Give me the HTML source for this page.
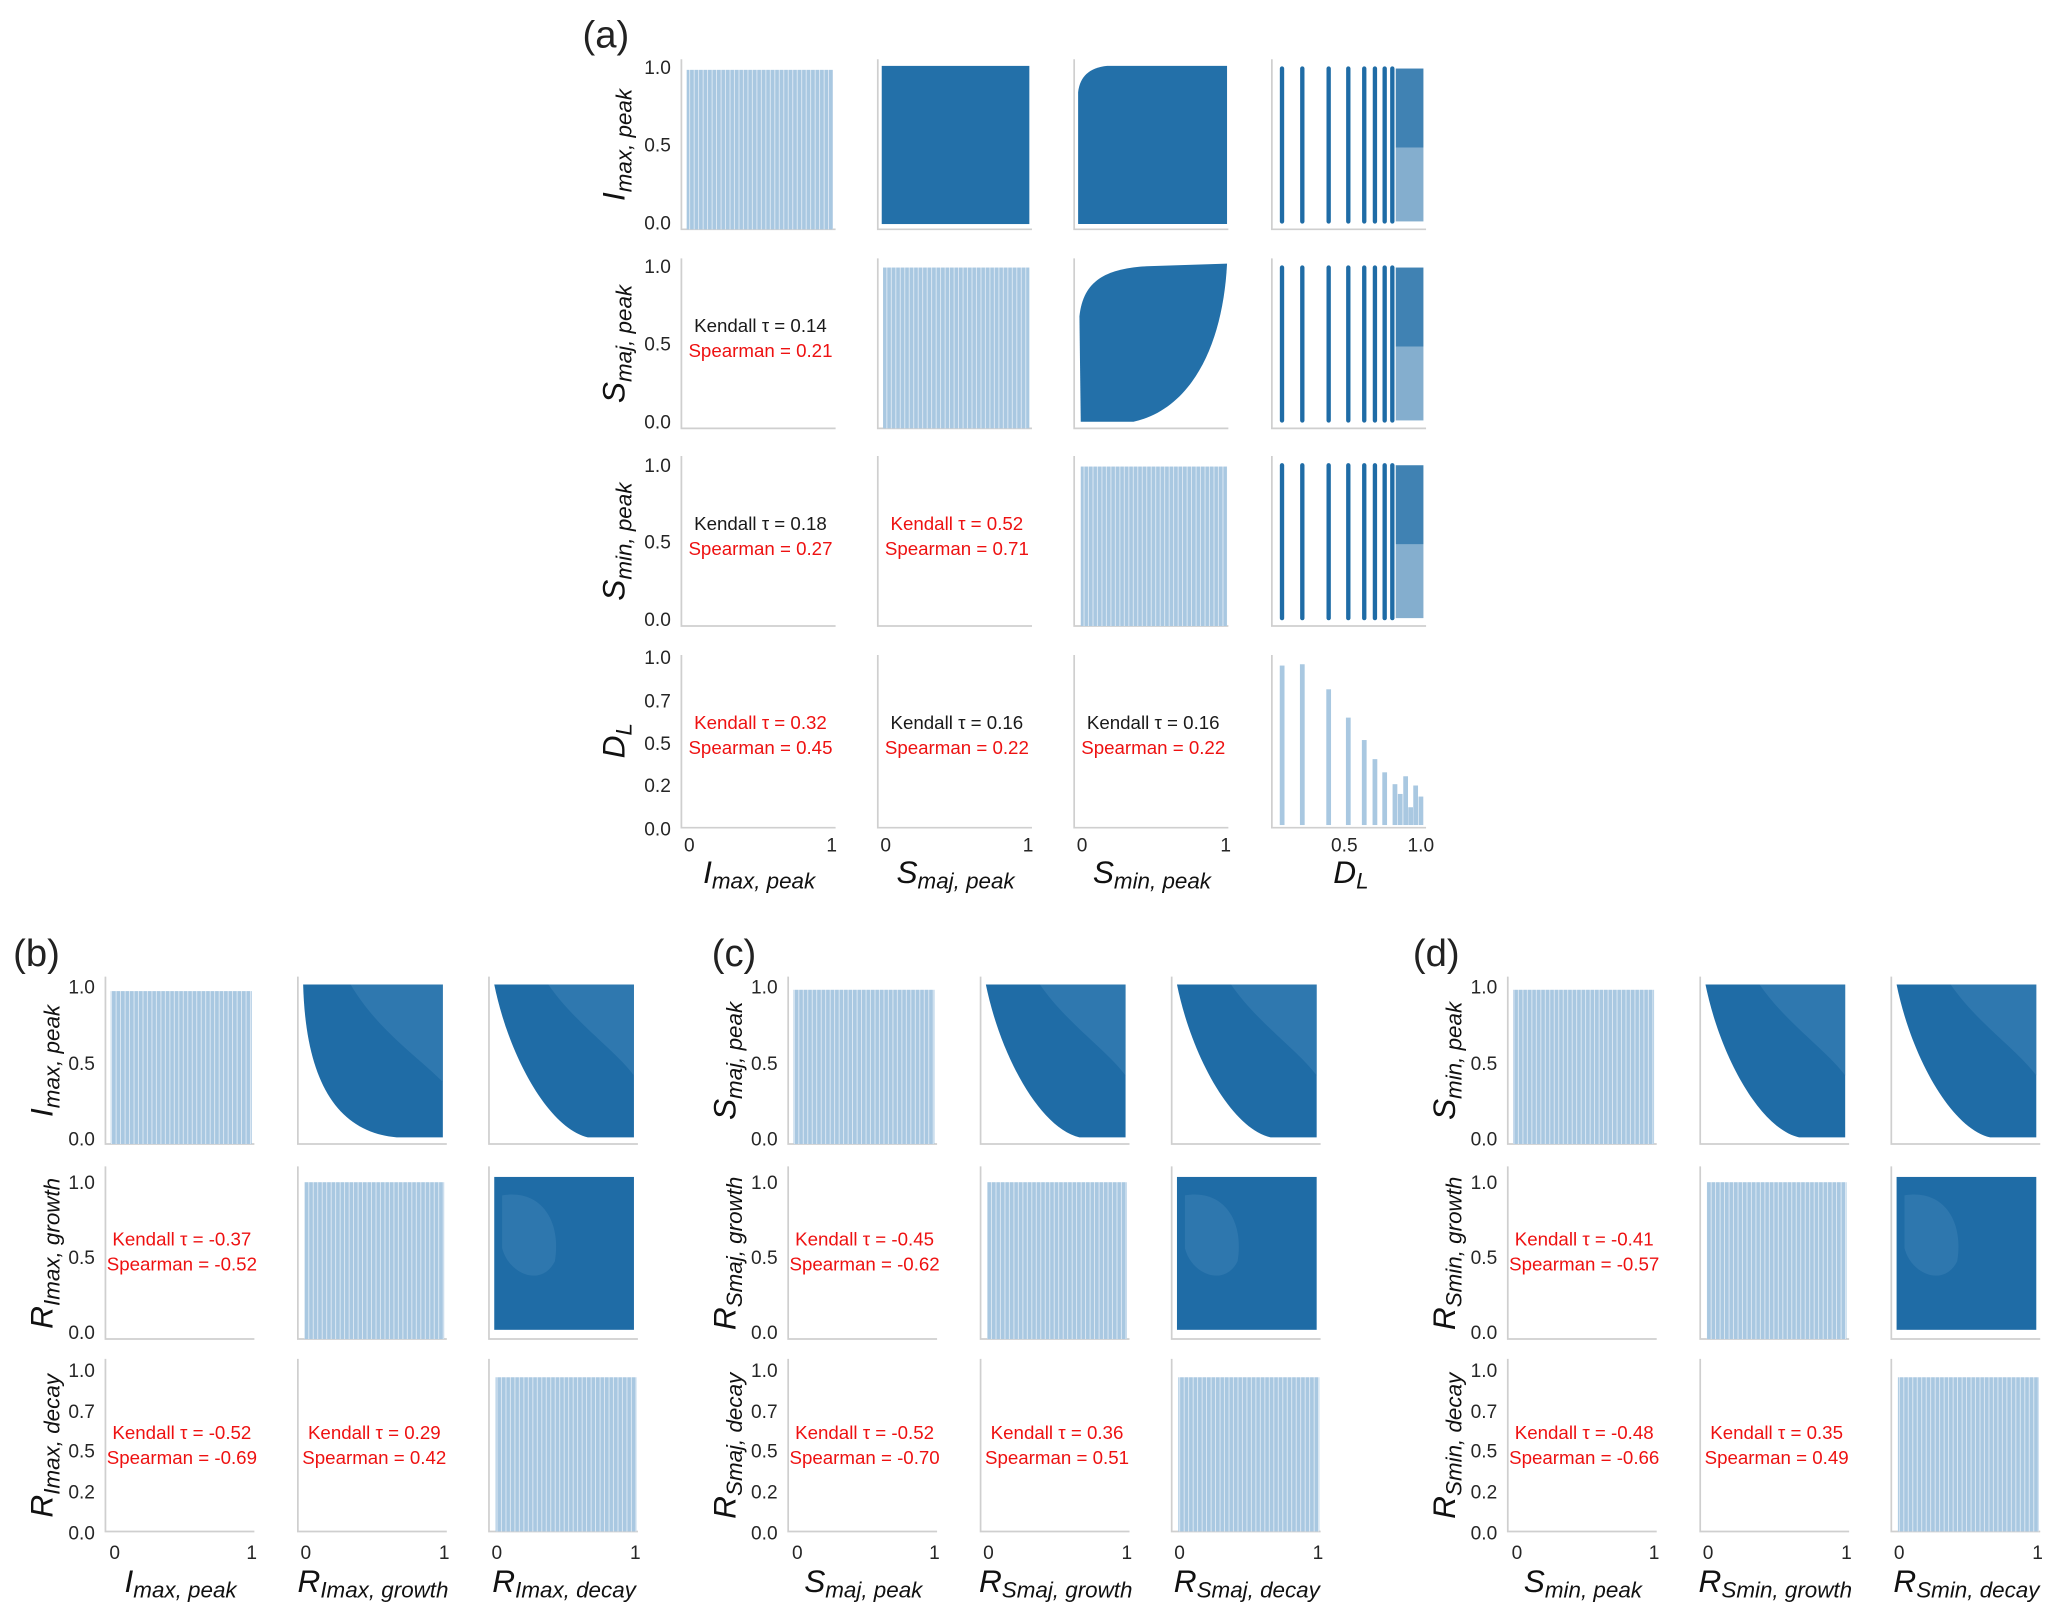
<!DOCTYPE html>
<html><head><meta charset="utf-8"><style>
html,body{margin:0;padding:0;background:#fff;}
svg{display:block;}
text{font-family:"Liberation Sans",sans-serif;}
.t{font-size:14.5px;fill:#262626;}
.c{font-size:14.2px;text-anchor:middle;}
.k{fill:#1a1a1a}.r{fill:#ee1111}
.lab{font-size:24px;font-style:italic;fill:#111;text-anchor:middle;}
.sub{font-size:17px;}
.pl{font-size:29px;fill:#222;}
.ax{fill:none;stroke:#cfcfcf;stroke-width:1.3;}
</style></head><body>
<svg width="2067" height="1617" viewBox="0 0 1568.3 1226.9" preserveAspectRatio="none" xmlns="http://www.w3.org/2000/svg">
<defs>
<pattern id="hp" patternUnits="userSpaceOnUse" width="3.4" height="10">
<rect width="3.4" height="10" fill="#a9c8e1"/><rect x="2.8" width="0.6" height="10" fill="#e8f0f8"/>
</pattern>
<symbol id="s1" overflow="visible">
<path d="M4,6 L110,6 L110,122 L75,122 C30,118 6,80 4,6Z" fill="#1f6ca6"/>
<path d="M40,6 L110,6 L110,80 C90,60 60,40 40,6Z" fill="#3a80b5" opacity="0.6"/>
</symbol>
<symbol id="s2" overflow="visible">
<path d="M4,6 L110,6 L110,122 L75,122 C45,115 15,60 4,6Z" fill="#1f6ca6"/>
<path d="M45,6 L110,6 L110,75 C95,55 65,35 45,6Z" fill="#3a80b5" opacity="0.6"/>
</symbol>
<symbol id="sq" overflow="visible">
<rect x="4" y="6" width="106" height="116" fill="#1f6ca6"/>
<path d="M10,20 C40,15 55,40 50,70 C40,90 15,80 10,60Z" fill="#4a8bbd" opacity="0.35"/>
</symbol>
<symbol id="dl" overflow="visible">
<g stroke="#1f6ca6" stroke-width="3.3" stroke-linecap="round">
<line x1="972.7" x2="972.7" y1="0" y2="116"/><line x1="988.1" x2="988.1" y1="0" y2="116"/>
<line x1="1008.1" x2="1008.1" y1="0" y2="116"/><line x1="1023" x2="1023" y1="0" y2="116"/>
<line x1="1035.1" x2="1035.1" y1="0" y2="116"/><line x1="1043.2" x2="1043.2" y1="0" y2="116"/>
<line x1="1050.6" x2="1050.6" y1="0" y2="116"/><line x1="1056.4" x2="1056.4" y1="0" y2="116"/>
</g>
<rect x="1059" y="0" width="21" height="60" fill="#1f6ca6" opacity="0.85"/>
<rect x="1059" y="60" width="21" height="56" fill="#1f6ca6" opacity="0.55"/>
</symbol>
</defs>

<!-- ===== Panel (a) ===== -->
<text class="pl" x="442" y="36">(a)</text>
<g>
<path class="ax" d="M517,45V174H634 M666,45V174H783 M815,45V174H932 M965,45V174H1082
M517,196V325H634 M666,196V325H783 M815,196V325H932 M965,196V325H1082
M517,346V475H634 M666,346V475H783 M815,346V475H932 M965,346V475H1082
M517,497V628H634 M666,497V628H783 M815,497V628H932 M965,497V628H1082"/>
<rect x="521" y="53" width="111" height="121" fill="url(#hp)"/>
<rect x="670" y="203" width="111" height="122" fill="url(#hp)"/>
<rect x="820" y="354" width="111" height="121" fill="url(#hp)"/>
<rect x="669" y="50" width="112" height="120" fill="#2370a9"/>
<path d="M818,170 L818,70 Q820,52 840,50 L931,50 L931,170Z" fill="#2370a9"/>
<use href="#dl" x="0" y="52"/>
<path d="M820,320 L819,240 C822,212 840,204 870,202 L931,200 C928,260 905,310 860,320Z" fill="#2370a9"/>
<use href="#dl" x="0" y="203"/>
<use href="#dl" x="0" y="353"/>
<g fill="#a9c8e1">
<rect x="971" y="505" width="3.6" height="121"/><rect x="986.3" y="504" width="3.6" height="122"/>
<rect x="1006.3" y="523" width="3.6" height="103"/><rect x="1021.2" y="544.5" width="3.6" height="81.5"/>
<rect x="1033.3" y="561.5" width="3.6" height="64.5"/><rect x="1041.4" y="576" width="3.6" height="50"/>
<rect x="1048.8" y="586" width="3.6" height="40"/><rect x="1056.6" y="595" width="3.6" height="31"/>
<rect x="1060.6" y="602.4" width="3.6" height="23.6"/><rect x="1064.7" y="589" width="3.6" height="37"/>
<rect x="1068.5" y="612.5" width="3.6" height="13.5"/><rect x="1072.3" y="596" width="3.6" height="30"/>
<rect x="1076.3" y="604.4" width="3.6" height="21.6"/>
</g>
<g class="t" text-anchor="end">
<text x="509" y="56">1.0</text><text x="509" y="115">0.5</text><text x="509" y="174">0.0</text>
<text x="509" y="207">1.0</text><text x="509" y="266">0.5</text><text x="509" y="325">0.0</text>
<text x="509" y="358">1.0</text><text x="509" y="416">0.5</text><text x="509" y="475">0.0</text>
<text x="509" y="504">1.0</text><text x="509" y="537">0.7</text><text x="509" y="569">0.5</text><text x="509" y="601">0.2</text><text x="509" y="634">0.0</text>
</g>
<g class="t" text-anchor="middle">
<text x="523" y="646">0</text><text x="631" y="646">1</text>
<text x="672" y="646">0</text><text x="780" y="646">1</text>
<text x="821" y="646">0</text><text x="930" y="646">1</text>
<text x="1020" y="646">0.5</text><text x="1078" y="646">1.0</text>
</g>
<text class="lab" transform="translate(474,110) rotate(-90)">I<tspan class="sub" dy="5">max, peak</tspan></text>
<text class="lab" transform="translate(474,261) rotate(-90)">S<tspan class="sub" dy="5">maj, peak</tspan></text>
<text class="lab" transform="translate(474,411) rotate(-90)">S<tspan class="sub" dy="5">min, peak</tspan></text>
<text class="lab" transform="translate(474,562) rotate(-90)">D<tspan class="sub" dy="5">L</tspan></text>
<text class="lab" x="576" y="670">I<tspan class="sub" dy="4">max, peak</tspan></text>
<text class="lab" x="725" y="670">S<tspan class="sub" dy="4">maj, peak</tspan></text>
<text class="lab" x="874" y="670">S<tspan class="sub" dy="4">min, peak</tspan></text>
<text class="lab" x="1025" y="670">D<tspan class="sub" dy="4">L</tspan></text>
<text class="c k" x="577" y="252">Kendall τ = 0.14</text><text class="c r" x="577" y="271">Spearman = 0.21</text>
<text class="c k" x="577" y="402">Kendall τ = 0.18</text><text class="c r" x="577" y="421">Spearman = 0.27</text>
<text class="c r" x="726" y="402">Kendall τ = 0.52</text><text class="c r" x="726" y="421">Spearman = 0.71</text>
<text class="c r" x="577" y="553">Kendall τ = 0.32</text><text class="c r" x="577" y="572">Spearman = 0.45</text>
<text class="c k" x="726" y="553">Kendall τ = 0.16</text><text class="c r" x="726" y="572">Spearman = 0.22</text>
<text class="c k" x="875" y="553">Kendall τ = 0.16</text><text class="c r" x="875" y="572">Spearman = 0.22</text>
</g>

<text class="pl" x="10" y="733">(b)</text>
<text class="pl" x="540" y="733">(c)</text>
<text class="pl" x="1072" y="733">(d)</text>

<g>
<path class="ax" d="M80,741V868H193 M226,741V868H339 M371,741V868H484 M80,885V1016H193 M226,885V1016H339 M371,885V1016H484 M80,1031V1162H193 M226,1031V1162H339 M371,1031V1162H484"/>
<rect x="84" y="752" width="107" height="116" fill="url(#hp)"/>
<rect x="231" y="897" width="106" height="119" fill="url(#hp)"/>
<rect x="376" y="1045" width="107" height="117" fill="url(#hp)"/>
<use href="#s1" x="226" y="741"/>
<use href="#s2" x="371" y="741"/>
<use href="#sq" x="371" y="887"/>
<g class="t" text-anchor="end">
<text x="72" y="754">1.0</text><text x="72" y="812">0.5</text><text x="72" y="869">0.0</text>
<text x="72" y="902">1.0</text><text x="72" y="959">0.5</text><text x="72" y="1016">0.0</text>
<text x="72" y="1045">1.0</text><text x="72" y="1076">0.7</text><text x="72" y="1106">0.5</text><text x="72" y="1137">0.2</text><text x="72" y="1168">0.0</text>
</g>
<g class="t" text-anchor="middle">
<text x="87" y="1183">0</text><text x="191" y="1183">1</text>
<text x="232" y="1183">0</text><text x="337" y="1183">1</text>
<text x="377" y="1183">0</text><text x="482" y="1183">1</text>
</g>
<text class="lab" transform="translate(40,805) rotate(-90)">I<tspan class="sub" dy="5">max, peak</tspan></text>
<text class="lab" transform="translate(40,951) rotate(-90)">R<tspan class="sub" dy="5">Imax, growth</tspan></text>
<text class="lab" transform="translate(40,1097) rotate(-90)">R<tspan class="sub" dy="5">Imax, decay</tspan></text>
<text class="lab" x="137" y="1208">I<tspan class="sub" dy="4">max, peak</tspan></text>
<text class="lab" x="283" y="1208">R<tspan class="sub" dy="4">Imax, growth</tspan></text>
<text class="lab" x="428" y="1208">R<tspan class="sub" dy="4">Imax, decay</tspan></text>
<text class="c r" x="138" y="945">Kendall τ = -0.37</text><text class="c r" x="138" y="964">Spearman = -0.52</text>
<text class="c r" x="138" y="1092">Kendall τ = -0.52</text><text class="c r" x="138" y="1111">Spearman = -0.69</text>
<text class="c r" x="284" y="1092">Kendall τ = 0.29</text><text class="c r" x="284" y="1111">Spearman = 0.42</text>
</g>

<g transform="translate(518,0)">
<path class="ax" d="M80,741V868H193 M226,741V868H339 M371,741V868H484 M80,885V1016H193 M226,885V1016H339 M371,885V1016H484 M80,1031V1162H193 M226,1031V1162H339 M371,1031V1162H484"/>
<rect x="84" y="751" width="107" height="117" fill="url(#hp)"/>
<rect x="231" y="897" width="106" height="119" fill="url(#hp)"/>
<rect x="376" y="1045" width="107" height="117" fill="url(#hp)"/>
<use href="#s2" x="226" y="741"/>
<use href="#s2" x="371" y="741"/>
<use href="#sq" x="371" y="887"/>
<g class="t" text-anchor="end">
<text x="72" y="754">1.0</text><text x="72" y="812">0.5</text><text x="72" y="869">0.0</text>
<text x="72" y="902">1.0</text><text x="72" y="959">0.5</text><text x="72" y="1016">0.0</text>
<text x="72" y="1045">1.0</text><text x="72" y="1076">0.7</text><text x="72" y="1106">0.5</text><text x="72" y="1137">0.2</text><text x="72" y="1168">0.0</text>
</g>
<g class="t" text-anchor="middle">
<text x="87" y="1183">0</text><text x="191" y="1183">1</text>
<text x="232" y="1183">0</text><text x="337" y="1183">1</text>
<text x="377" y="1183">0</text><text x="482" y="1183">1</text>
</g>
<text class="lab" transform="translate(40,805) rotate(-90)">S<tspan class="sub" dy="5">maj, peak</tspan></text>
<text class="lab" transform="translate(40,951) rotate(-90)">R<tspan class="sub" dy="5">Smaj, growth</tspan></text>
<text class="lab" transform="translate(40,1097) rotate(-90)">R<tspan class="sub" dy="5">Smaj, decay</tspan></text>
<text class="lab" x="137" y="1208">S<tspan class="sub" dy="4">maj, peak</tspan></text>
<text class="lab" x="283" y="1208">R<tspan class="sub" dy="4">Smaj, growth</tspan></text>
<text class="lab" x="428" y="1208">R<tspan class="sub" dy="4">Smaj, decay</tspan></text>
<text class="c r" x="138" y="945">Kendall τ = -0.45</text><text class="c r" x="138" y="964">Spearman = -0.62</text>
<text class="c r" x="138" y="1092">Kendall τ = -0.52</text><text class="c r" x="138" y="1111">Spearman = -0.70</text>
<text class="c r" x="284" y="1092">Kendall τ = 0.36</text><text class="c r" x="284" y="1111">Spearman = 0.51</text>
</g>

<g transform="translate(1064,0)">
<path class="ax" d="M80,741V868H193 M226,741V868H339 M371,741V868H484 M80,885V1016H193 M226,885V1016H339 M371,885V1016H484 M80,1031V1162H193 M226,1031V1162H339 M371,1031V1162H484"/>
<rect x="84" y="751" width="107" height="117" fill="url(#hp)"/>
<rect x="231" y="897" width="106" height="119" fill="url(#hp)"/>
<rect x="376" y="1045" width="107" height="117" fill="url(#hp)"/>
<use href="#s2" x="226" y="741"/>
<use href="#s2" x="371" y="741"/>
<use href="#sq" x="371" y="887"/>
<g class="t" text-anchor="end">
<text x="72" y="754">1.0</text><text x="72" y="812">0.5</text><text x="72" y="869">0.0</text>
<text x="72" y="902">1.0</text><text x="72" y="959">0.5</text><text x="72" y="1016">0.0</text>
<text x="72" y="1045">1.0</text><text x="72" y="1076">0.7</text><text x="72" y="1106">0.5</text><text x="72" y="1137">0.2</text><text x="72" y="1168">0.0</text>
</g>
<g class="t" text-anchor="middle">
<text x="87" y="1183">0</text><text x="191" y="1183">1</text>
<text x="232" y="1183">0</text><text x="337" y="1183">1</text>
<text x="377" y="1183">0</text><text x="482" y="1183">1</text>
</g>
<text class="lab" transform="translate(40,805) rotate(-90)">S<tspan class="sub" dy="5">min, peak</tspan></text>
<text class="lab" transform="translate(40,951) rotate(-90)">R<tspan class="sub" dy="5">Smin, growth</tspan></text>
<text class="lab" transform="translate(40,1097) rotate(-90)">R<tspan class="sub" dy="5">Smin, decay</tspan></text>
<text class="lab" x="137" y="1208">S<tspan class="sub" dy="4">min, peak</tspan></text>
<text class="lab" x="283" y="1208">R<tspan class="sub" dy="4">Smin, growth</tspan></text>
<text class="lab" x="428" y="1208">R<tspan class="sub" dy="4">Smin, decay</tspan></text>
<text class="c r" x="138" y="945">Kendall τ = -0.41</text><text class="c r" x="138" y="964">Spearman = -0.57</text>
<text class="c r" x="138" y="1092">Kendall τ = -0.48</text><text class="c r" x="138" y="1111">Spearman = -0.66</text>
<text class="c r" x="284" y="1092">Kendall τ = 0.35</text><text class="c r" x="284" y="1111">Spearman = 0.49</text>
</g>
</svg>
</body></html>
